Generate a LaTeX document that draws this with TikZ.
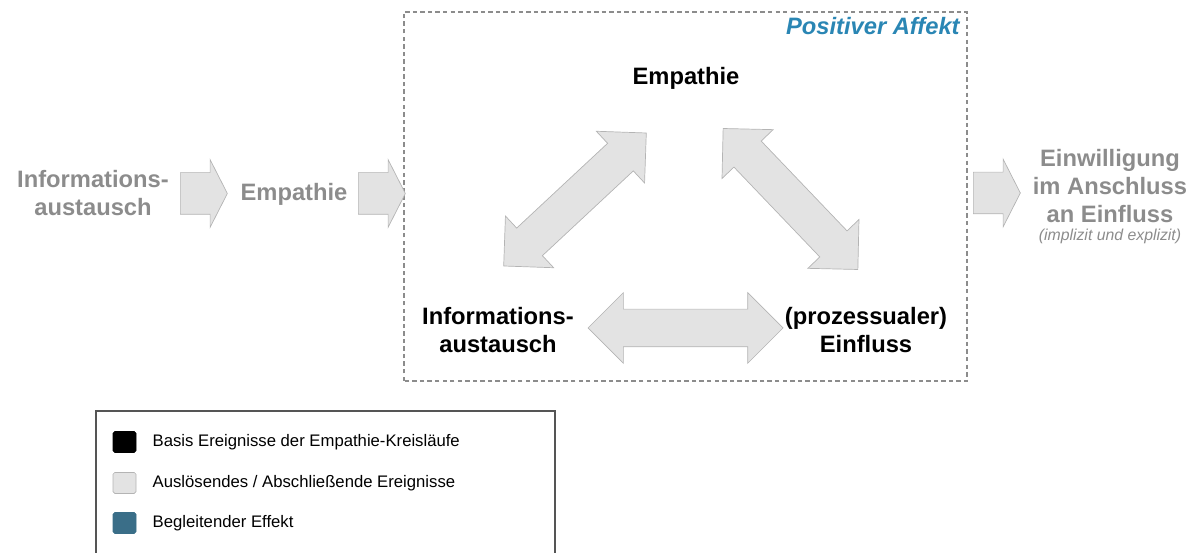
\documentclass[tikz,border=0pt]{standalone}
\usepackage{fontspec}
\setmainfont{Liberation Sans}
\usetikzlibrary{shapes.arrows,positioning}
\definecolor{agray}{HTML}{E3E3E3}
\definecolor{agrayd}{HTML}{B4B4B4}
\definecolor{tgray}{HTML}{8C8C8C}
\definecolor{pblue}{HTML}{2A86B4}
\definecolor{pteal}{HTML}{3A6E88}
\definecolor{lgray}{HTML}{555555}
\tikzset{
  % big bold labels, grey outside the loop, black inside it
  lbl/.style    = {align=center, inner sep=0pt, font=\fontsize{13.5}{16}\selectfont\bfseries},
  outer/.style  = {lbl, text=tgray},
  inner/.style  = {lbl, text=black},
  % body thickness = 2 x inner ysep
  sglarr/.style = {single arrow, draw=agrayd, fill=agray, inner xsep=0pt, inner ysep=0.41cm,
                   minimum height=0.94cm, anchor=tail,
                   single arrow head extend=0.26cm, single arrow tip angle=126},
  dblarr/.style = {double arrow, draw=agrayd, fill=agray, inner xsep=0pt, inner ysep=0.37cm,
                   minimum height=3.9cm,
                   double arrow head extend=0.33cm, double arrow tip angle=90},
  key/.style    = {rectangle, rounded corners=1pt, minimum width=0.46cm,
                   minimum height=0.42cm, inner sep=0pt, draw=#1, fill=#1},
  keytxt/.style = {anchor=west, inner sep=0pt, font=\fontsize{9.5}{11}\selectfont},
}
\begin{document}
\begin{tikzpicture}[x=1cm,y=1cm]
\useasboundingbox (0,0) rectangle (23.92,11.06);

% the loop
\draw[tgray, line width=0.6pt, dash pattern=on 2.5pt off 1.8pt] (8.08,3.44) rectangle (19.34,10.82);
\node[anchor=east, inner sep=0pt, text=pblue,
      font=\fontsize{13.5}{16}\selectfont\bfseries\itshape] (aff) at (19.2,10.54) {Positiver Affekt};
\node[inner] (emp) at (13.72,9.5) {Empathie};
\node[inner] (inf) at (9.96,4.46) {Informations-\\austausch};
\node[inner] (ein) at (17.32,4.46) {(prozessualer)\\Einfluss};
\node[dblarr, rotate=43]    (d1) at (11.50,7.07) {};
\node[dblarr, rotate=-46.3] (d2) at (15.81,7.08) {};
\node[dblarr]               (d3) at (13.71,4.50) {};

% before and after
\node[outer] (inf0) at (1.86,7.20) {Informations-\\austausch};
\node[outer] (emp0) at (5.88,7.17) {Empathie};
\node[sglarr] (a1) at (3.60,7.19) {};
\node[sglarr] (a2) at (7.16,7.19) {};
\node[sglarr] (a3) at (19.46,7.20) {};
\node[outer] (einw) at (22.2,7.34) {Einwilligung\\im Anschluss\\an Einfluss};
\node[below=0.12cm of einw, inner sep=0pt, text=tgray,
      font=\fontsize{9}{11}\selectfont\itshape] (expl) {(implizit und explizit)};

% legend
\draw[lgray, line width=0.8pt] (1.92,0) -- (1.92,2.84) -- (11.10,2.84) -- (11.10,0);
\node[key=black] (k1) at (2.49,2.22) {};
\node[key=agrayd, fill=agray] (k2) at (2.49,1.40) {};
\node[key=pteal] (k3) at (2.49,0.60) {};
\node[keytxt, right=0.32cm of k1] (t1) {Basis Ereignisse der Empathie-Kreisläufe};
\node[keytxt, right=0.32cm of k2] (t2) {Auslösendes / Abschließende Ereignisse};
\node[keytxt, right=0.32cm of k3] (t3) {Begleitender Effekt};
\end{tikzpicture}
\end{document}
